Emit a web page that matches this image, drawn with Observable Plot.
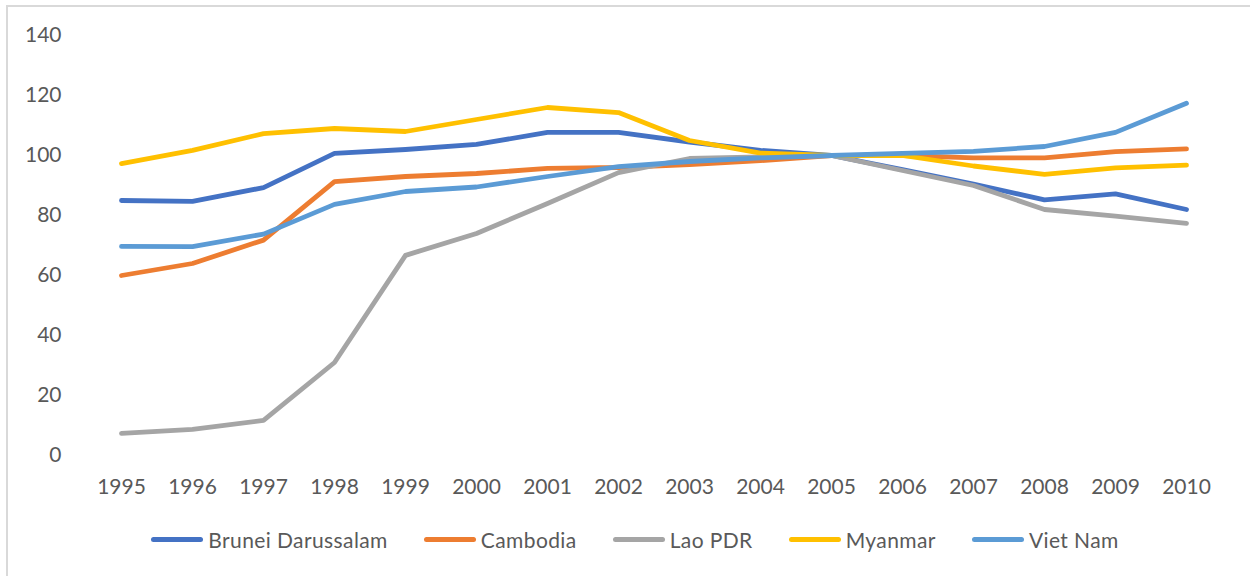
<!DOCTYPE html>
<html>
<head>
<meta charset="utf-8">
<script src="https://cdn.jsdelivr.net/npm/d3@7"></script>
<script src="https://cdn.jsdelivr.net/npm/@observablehq/plot@0.6"></script>
<style>
  html, body { margin: 0; padding: 0; background: #fff; }
  body { width: 1250px; height: 576px; position: relative; overflow: hidden; font-family: Lato, "Open Sans", sans-serif; }
  #frame { position: absolute; left: 6px; top: 5px; width: 1300px; height: 620px; border: 2px solid #d9d9d9; box-sizing: border-box; }
  #chart { position: absolute; left: 0; top: 0; }
  #legend { position: absolute; left: 0; top: 527px; width: 1250px; display: flex; justify-content: center; gap: 36px; padding-left: 20px; box-sizing: border-box; }
  .item { display: flex; align-items: center; font-size: 21px; letter-spacing: 0.4px; color: #595959; }
  .sw { width: 52px; height: 5px; border-radius: 3px; margin-right: 5px; }
</style>
</head>
<body>
<div id="frame"></div>
<div id="chart"></div>
<div id="legend"></div>
<script>
const years = ["1995","1996","1997","1998","1999","2000","2001","2002","2003","2004","2005","2006","2007","2008","2009","2010"];
const countries = ["Brunei Darussalam", "Cambodia", "Lao PDR", "Myanmar", "Viet Nam"];
const colors = ["#4472C4", "#ED7D31", "#A5A5A5", "#FFC000", "#5B9BD5"];
const brunei  = [85.0, 84.7, 89.3, 100.7, 102.0, 103.7, 107.7, 107.7, 104.5, 101.7, 100, 95.3, 90.5, 85.2, 87.2, 82.0];
const cambodia = [60.0, 64.0, 71.8, 91.3, 93.0, 94.0, 95.7, 96.0, 97.0, 98.3, 100, 100.0, 99.2, 99.2, 101.3, 102.2];
const lao     = [7.4, 8.7, 11.7, 31.0, 66.7, 74.0, 84.0, 94.3, 99.0, 99.5, 100, 95.0, 90.0, 82.0, 79.8, 77.4];
const myanmar = [97.3, 101.7, 107.3, 109.0, 108.0, 112.0, 116.0, 114.3, 105.0, 100.8, 100, 100.0, 96.5, 93.7, 95.9, 96.8];
const vietnam = [69.7, 69.6, 73.8, 83.7, 88.0, 89.5, 93.0, 96.3, 98.0, 99.2, 100, 100.7, 101.4, 103.0, 107.7, 117.4];
const yTicks = [0, 20, 40, 60, 80, 100, 120, 140];

const seriesValues = [brunei, cambodia, lao, myanmar, vietnam];
const data = [];
countries.forEach((c, i) => years.forEach((y, j) => data.push({country: c, year: y, value: seriesValues[i][j]})));

const chart = Plot.plot({
  width: 1250,
  height: 510,
  marginLeft: 83,
  marginRight: 26,
  marginTop: 35,
  marginBottom: 55,
  style: { fontFamily: "Lato, 'Open Sans', sans-serif", fontSize: "21px", color: "#595959", background: "transparent" },
  x: { type: "point", domain: years, padding: 0.5, label: null, tickSize: 0, tickPadding: 24 },
  y: { domain: [0, 140], ticks: yTicks, label: null, tickSize: 0, tickPadding: 22 },
  color: { domain: countries, range: colors },
  marks: [
    Plot.gridY(yTicks, { stroke: "#d9d9d9", strokeOpacity: 1, strokeWidth: 1.5, x1: 83, x2: 1224 }),
    Plot.axisX({ tickSize: 0, tickPadding: 24, fill: "#595959", label: null }),
    Plot.axisY(yTicks, { tickSize: 0, tickPadding: 22, fill: "#595959", label: null }),
    Plot.line(data, { x: "year", y: "value", z: "country", stroke: "country", strokeWidth: 4.8, strokeLinecap: "round", strokeLinejoin: "round" })
  ]
});
document.getElementById("chart").appendChild(chart);

const legend = document.getElementById("legend");
countries.forEach((c, i) => {
  const it = document.createElement("div");
  it.className = "item";
  const sw = document.createElement("span");
  sw.className = "sw";
  sw.style.background = colors[i];
  const t = document.createElement("span");
  t.textContent = c;
  it.appendChild(sw); it.appendChild(t);
  legend.appendChild(it);
});
</script>
</body>
</html>
